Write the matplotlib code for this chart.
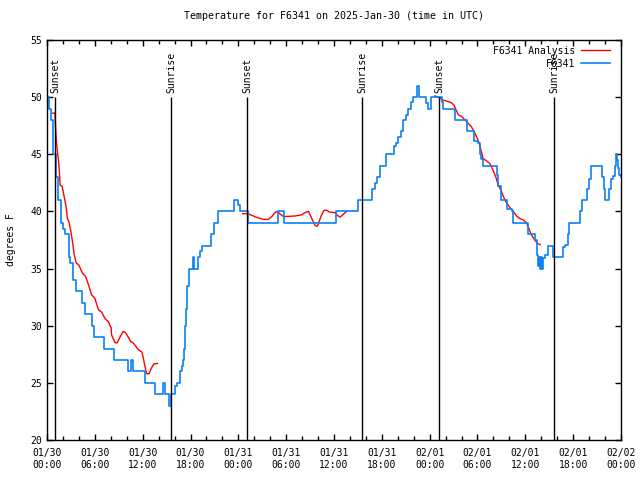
import matplotlib
matplotlib.use('Agg')
import matplotlib.pyplot as plt
import numpy as np

# hours since 2025-01-30 00:00 UTC
obs_hours = [0.0, 0.2, 0.3, 0.5, 0.7, 0.8, 1.1, 1.4, 1.75, 2.0, 2.25, 2.7, 2.9, 3.3, 3.7,
             4.35, 4.8, 5.6, 5.9, 7.1, 8.4, 10.0, 10.1, 10.3, 10.5, 10.8, 10.85, 12.15, 12.3,
             13.4, 13.5, 14.4, 14.55, 14.7, 14.85, 15.2, 15.35, 15.5, 15.8, 16.05, 16.3, 16.7,
             16.9, 17.1, 17.2, 17.3, 17.4, 17.5, 17.6, 17.8, 18.0, 18.35, 18.5, 18.8, 19.0,
             19.2, 19.4, 20.4, 20.6, 20.9, 21.2, 21.5, 23.3, 23.5, 23.65, 24.0, 24.2, 25.05,
             25.25, 28.9, 29.0, 29.6, 29.7, 36.2, 36.3, 38.9, 39.05, 40.7, 40.8, 41.1, 41.35,
             41.6, 41.75, 42.3, 42.5, 43.45, 43.5, 43.75, 44.05, 44.35, 44.7, 45.0, 45.3, 45.6,
             45.95, 46.35, 46.45, 46.6, 47.4, 47.6, 47.8, 47.95, 48.2, 49.4, 49.5, 49.7, 50.95,
             51.2, 52.4, 52.65, 53.5, 53.6, 54.1, 54.3, 54.5, 54.7, 56.2, 56.4, 56.6, 56.9,
             57.25, 57.65, 58.3, 58.5, 60.15, 60.35, 61.1, 61.2, 61.45, 61.5, 61.65, 61.7,
             61.85, 62.0, 62.05, 62.25, 62.5, 62.8, 63.2, 63.45, 64.55, 64.7, 65.0, 65.3, 65.5,
             66.65, 66.85, 67.05, 67.45, 67.75, 68.0, 68.25, 69.5, 69.65, 69.85, 70.05, 70.3,
             70.5, 70.7, 70.95, 71.25, 71.4, 71.5, 71.65, 71.8, 72.0]
obs_temp = [50, 50, 49, 48, 46, 45, 43, 41, 39, 38.5, 38, 36, 35.5, 34, 33,
            32, 31, 30, 29, 28, 27, 27, 26, 26, 27, 27, 26, 26, 25,
            25, 24, 24, 25, 25, 24, 24, 23, 24, 24, 24.7, 25, 26,
            26.5, 27, 28, 30, 31.5, 32.5, 33.5, 35, 35, 36, 35, 35, 36,
            36.5, 37, 37, 38, 39, 39, 40, 40, 41, 41, 40.6, 40, 40,
            39, 39, 40, 40, 39, 39, 40, 40, 41, 41, 42, 42.5, 43,
            43, 44, 44, 45, 45, 45.7, 46, 46.5, 47, 48, 48.4, 49, 49.6,
            50, 50, 51, 50, 50, 49.5, 49, 49, 50, 50, 49.6, 49, 49,
            48, 48, 47, 47, 46.2, 46, 45, 44.6, 44, 44, 43.2, 42.2, 41,
            41, 40.2, 40, 39, 39, 38, 38, 37.5, 36.9, 36.2, 35.2, 36,
            35, 36, 35, 35.9, 36.2, 37, 37, 36, 36, 36.9, 37.1, 38, 39,
            39, 40, 41, 41, 42, 42.8, 44, 44, 43, 42, 41, 41,
            42, 42.8, 43.1, 44, 45, 44.5, 43.8, 43.2, 43]

nan = float('nan')
ana_hours = [0.65, 1.0, 1.1, 1.2, 1.35, 1.5, 1.65, 1.9, 2.15, 2.4, 2.55, 2.75, 3.0, 3.2, 3.4,
             3.65, 4.0, 4.45, 4.85, 5.2, 5.6, 6.0, 6.45, 6.85, 7.3, 7.7, 8.05, 8.1, 8.55, 8.8,
             9.15, 9.55, 9.85, 10.2, 10.5, 10.8, 11.15, 11.45, 11.9, 12.1, 12.3, 12.5, 12.8,
             13.1, 13.4, 13.85,
             18.0,
             24.55, 25.2, 25.9, 26.2, 26.7, 27.15, 27.75, 28.2, 28.6, 28.9, 29.2, 29.55, 29.85,
             31.1, 31.95, 32.35, 32.8, 33.0, 33.3, 33.6, 33.85, 34.05, 34.35, 34.75, 35.1, 35.4,
             36.1, 36.35, 36.75, 37.1, 37.4, 37.6,
             42.0,
             48.65, 49.1, 49.65, 50.15, 50.75, 51.05, 51.3, 51.6, 52.0, 52.45, 52.85, 53.25,
             53.7, 53.9, 54.2, 54.5, 54.7, 55.15, 55.55, 55.95, 56.3, 56.6, 56.9, 57.25, 57.55,
             58.0, 58.4, 58.9, 59.25, 59.75, 60.15, 60.5, 60.8, 61.2, 61.5, 61.85]
ana_temp = [48.6, 48.6, 47, 46, 45, 44, 42.3, 42.2, 41.3, 40.4, 39.4, 39.1, 38.2, 37.35, 36.3,
            35.5, 35.3, 34.6, 34.3, 33.6, 32.7, 32.4, 31.4, 31.2, 30.6, 30.35, 29.8, 29.2, 28.5, 28.5,
            29.0, 29.5, 29.4, 29.0, 28.6, 28.5, 28.2, 27.9, 27.7, 27.1, 26.4, 25.8, 25.8,
            26.3, 26.65, 26.7,
            nan,
            39.8, 39.8, 39.6, 39.5, 39.4, 39.3, 39.3, 39.55, 39.9, 40.0, 39.8, 39.6, 39.55,
            39.6, 39.7, 39.9, 40.0, 39.7, 39.25, 38.8, 38.7, 38.9, 39.55, 40.1, 40.1, 39.95,
            39.9, 39.7, 39.5, 39.7, 39.9, 40.0,
            nan,
            50.1, 50.0, 49.75, 49.65, 49.5, 49.3, 48.9, 48.45, 48.3, 48.0, 47.7, 47.4,
            46.8, 46.5, 46.0, 45.2, 44.65, 44.4, 44.2, 43.6, 43.0, 42.3, 41.9, 41.3, 40.85,
            40.4, 40.1, 39.6, 39.4, 39.25, 39.0, 38.4, 37.9, 37.5, 37.2, 37.1]

sunset_hours = [1.0, 25.1, 49.2]
sunrise_hours = [15.55, 39.5, 63.6]

tick_hours = list(range(0, 73, 6))
tick_labels = ['01/30\n00:00', '01/30\n06:00', '01/30\n12:00', '01/30\n18:00',
               '01/31\n00:00', '01/31\n06:00', '01/31\n12:00', '01/31\n18:00',
               '02/01\n00:00', '02/01\n06:00', '02/01\n12:00', '02/01\n18:00',
               '02/02\n00:00']

plt.rcParams['font.family'] = ['DejaVu Sans Mono']
plt.rcParams['font.size'] = 7

fig = plt.figure(figsize=(6.4, 4.8), dpi=100)
ax = fig.add_axes([47/640, 40/480, 574/640, 400/480])

ax.plot(ana_hours, ana_temp, color='#ff0000', lw=1, label='F6341 Analysis')
ax.plot(obs_hours, obs_temp, color='#0d80f2', lw=1.2, drawstyle='steps-post', label='F6341')

ax.vlines(sunset_hours + sunrise_hours, 20, 50, color='black', lw=1)
for h in sunset_hours:
    ax.text(h, 50.4, 'Sunset', rotation=90, ha='center', va='bottom', fontsize=7)
for h in sunrise_hours:
    ax.text(h, 50.4, 'Sunrise', rotation=90, ha='center', va='bottom', fontsize=7)

ax.set_xlim(0, 72)
ax.set_ylim(20, 55)
ax.set_xticks(tick_hours)
ax.set_xticklabels(tick_labels)
ax.set_xticks(np.arange(0, 73, 2), minor=True)
ax.set_yticks(range(20, 56, 5))
ax.tick_params(which='both', direction='in', top=True, right=True, width=1)
ax.tick_params(which='major', length=4)
ax.tick_params(which='minor', length=3)
ax.tick_params(axis='x', pad=6)
for s in ax.spines.values():
    s.set_linewidth(1)

ax.set_ylabel('degrees F', labelpad=10)
ax.set_title('Temperature for F6341 on 2025-Jan-30 (time in UTC)', pad=15, fontsize=7.2)

ax.legend(loc='upper right', frameon=False, markerfirst=False, handlelength=3.0,
          handletextpad=0.6, labelspacing=0.3, borderaxespad=0.9, borderpad=0.2,
          bbox_to_anchor=(1.0, 1.012))

fig.savefig('out.png', dpi=100)
